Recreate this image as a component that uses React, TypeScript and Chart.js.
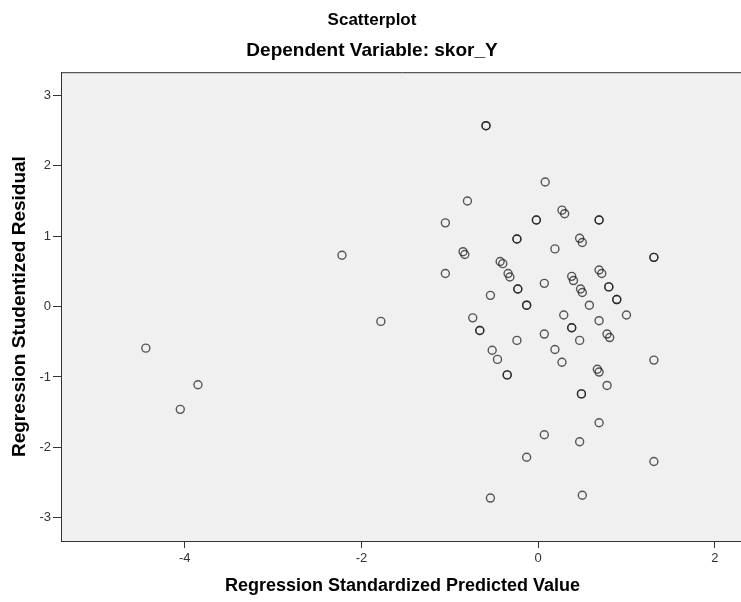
import { useEffect, useRef } from "react";
import { Chart, registerables } from "chart.js";

Chart.register(...registerables);

// Regression Standardized Predicted Value (x) and Studentized Residual (y)
const xValues = [
  -0.59, -0.59, 0.08, -0.8, -1.05, -0.02, -0.02, 0.27, 0.3, 0.69, 0.69,
  -0.24, -0.24, 0.19, 0.47, 0.5, -0.85, -0.83, 1.31, 1.31, -1.05, -0.43,
  -0.4, -0.34, -0.32, 0.07, 0.38, 0.4, 0.69, 0.72, 0.8, 0.8, -0.54, -0.23,
  -0.23, 0.48, 0.5, 0.89, 0.89, -0.13, -0.13, 0.58, -0.74, 0.29, 0.69, 1.0,
  -0.66, -0.66, 0.38, 0.38, 0.07, -0.24, 0.47, 0.78, 0.81, -0.52, -0.46,
  0.19, 0.27, 1.31, -0.35, -0.35, 0.67, 0.69, 0.78, 0.49, 0.49, 0.69, 0.07,
  0.47, -0.13, 1.31, -0.54, 0.5, -2.22, -1.78, -4.44, -3.85, -4.05,
];
const yValues = [
  2.57, 2.57, 1.77, 1.5, 1.19, 1.23, 1.23, 1.37, 1.32, 1.23, 1.23,
  0.96, 0.96, 0.82, 0.97, 0.91, 0.78, 0.74, 0.7, 0.7, 0.47, 0.64,
  0.61, 0.47, 0.42, 0.33, 0.43, 0.37, 0.52, 0.47, 0.28, 0.28, 0.16, 0.25,
  0.25, 0.25, 0.2, 0.1, 0.1, 0.02, 0.02, 0.02, -0.16, -0.12, -0.2, -0.12,
  -0.34, -0.34, -0.3, -0.3, -0.39, -0.48, -0.48, -0.39, -0.44, -0.62, -0.75,
  -0.61, -0.79, -0.76, -0.97, -0.97, -0.89, -0.93, -1.12, -1.24, -1.24, -1.65, -1.82,
  -1.92, -2.14, -2.2, -2.72, -2.68, 0.73, -0.21, -0.59, -1.11, -1.46,
];
const xTicks = [-4, -2, 0, 2];
const yTicks = [-3, -2, -1, 0, 1, 2, 3];

const FONT = "'Liberation Sans', Arial, sans-serif";

const plotBg = {
  id: "plotBg",
  beforeDraw(chart: any) {
    const { ctx, chartArea } = chart;
    const { left, top, right, bottom } = chartArea;
    ctx.save();
    ctx.fillStyle = "#f0f0f0";
    ctx.fillRect(left, top, right - left, bottom - top);
    ctx.strokeStyle = "#333333";
    ctx.lineWidth = 1;
    ctx.beginPath();
    ctx.moveTo(left, top + 0.5);
    ctx.lineTo(right, top + 0.5);
    ctx.moveTo(right - 0.5, top);
    ctx.lineTo(right - 0.5, bottom);
    ctx.stroke();
    ctx.restore();
  },
};

export default function App() {
  const ref = useRef<HTMLCanvasElement | null>(null);

  useEffect(() => {
    if (!ref.current) return;
    const points = xValues.map((x, i) => ({ x, y: yValues[i] }));
    const chart = new Chart(ref.current, {
      type: "scatter",
      data: {
        datasets: [
          {
            data: points,
            pointStyle: "circle",
            pointRadius: 4,
            pointHoverRadius: 4,
            pointBorderWidth: 1.4,
            pointBorderColor: "rgba(25,25,25,0.72)",
            pointBackgroundColor: "rgba(0,0,0,0)",
          },
        ],
      },
      options: {
        responsive: false,
        animation: false,
        layout: { padding: { left: 0, right: 16, top: 0, bottom: 0 } },
        plugins: {
          legend: { display: false },
          tooltip: { enabled: false },
          title: {
            display: true,
            text: "Scatterplot",
            color: "#000",
            font: { family: FONT, size: 17, weight: "bold" },
            padding: { top: 10, bottom: 0 },
          },
          subtitle: {
            display: true,
            text: "Dependent Variable: skor_Y",
            color: "#000",
            font: { family: FONT, size: 19, weight: "bold" },
            padding: { top: 9, bottom: 10 },
          },
        },
        scales: {
          x: {
            type: "linear",
            min: -5.4,
            max: 2.33,
            afterBuildTicks: (s: any) => {
              s.ticks = xTicks.map((v) => ({ value: v }));
            },
            afterFit: (s: any) => {
              s.height = 61;
            },
            grid: {
              drawOnChartArea: false,
              drawTicks: true,
              tickLength: 7,
              color: "#333333",
            },
            border: { display: true, color: "#333333", width: 1 },
            ticks: {
              color: "#333",
              font: { family: FONT, size: 13 },
              padding: 3,
              callback: (v: any) => String(v),
            },
            title: {
              display: true,
              text: "Regression Standardized Predicted Value",
              color: "#000",
              font: { family: FONT, size: 18, weight: "bold" },
              padding: { top: 0, bottom: 5 },
            },
          },
          y: {
            type: "linear",
            min: -3.33,
            max: 3.33,
            afterBuildTicks: (s: any) => {
              s.ticks = yTicks.map((v) => ({ value: v }));
            },
            afterFit: (s: any) => {
              s.width = 61;
            },
            grid: {
              drawOnChartArea: false,
              drawTicks: true,
              tickLength: 8,
              color: "#333333",
            },
            border: { display: true, color: "#333333", width: 1 },
            ticks: {
              color: "#333",
              font: { family: FONT, size: 13 },
              padding: 2,
              callback: (v: any) => String(v),
            },
            title: {
              display: true,
              text: "Regression Studentized Residual",
              color: "#000",
              font: { family: FONT, size: 19, weight: "bold" },
              padding: { top: 8, bottom: 0 },
            },
          },
        },
      },
      plugins: [plotBg],
    });
    return () => chart.destroy();
  }, []);

  return (
    <div
      style={{
        position: "fixed",
        left: 0,
        top: 0,
        width: 741,
        height: 602,
        overflow: "hidden",
        background: "#fff",
      }}
    >
      <canvas ref={ref} width={760} height={602} style={{ display: "block" }} />
    </div>
  );
}
